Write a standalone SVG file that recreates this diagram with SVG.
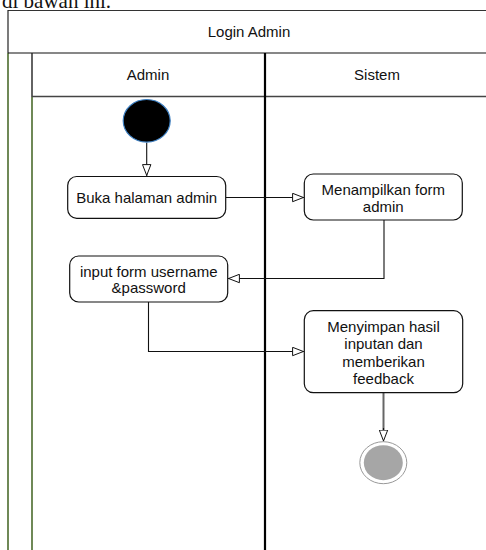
<svg xmlns="http://www.w3.org/2000/svg" width="486" height="550" viewBox="0 0 486 550">
  <style>
    .lbl { font-family: "Liberation Sans", Arial, sans-serif; font-size: 15px; fill: #111; text-anchor: middle; }
    .act { fill: #fff; stroke: #111; stroke-width: 1.2; }
    .flow { fill: none; stroke: #111; stroke-width: 1.1; }
    .frame { fill: none; stroke: #222; stroke-width: 1.2; }
    .green { stroke: #4b6b2c; stroke-width: 1.6; }
  </style>
  <defs>
    <marker id="open" viewBox="0 0 12 10" refX="12" refY="5" markerWidth="12" markerHeight="10" markerUnits="userSpaceOnUse" orient="auto">
      <path d="M0.6,0.8 L11.4,5 L0.6,9.2 Z" fill="#fff" stroke="#111" stroke-width="1"/>
    </marker>
  </defs>

  <rect width="486" height="550" fill="#fff"/>

  <!-- paragraph text running above the figure -->
  <text x="2" y="8" font-family="'Liberation Serif', 'Times New Roman', serif" font-size="21" fill="#111">di bawah ini.</text>

  <!-- swimlane frame -->
  <g id="swimlane">
    <line x1="8" y1="10.5" x2="486" y2="10.5" stroke="#333" stroke-width="1.2"/>
    <line x1="8" y1="10" x2="8" y2="53" stroke="#222" stroke-width="1.2"/>
    <line class="green" x1="8" y1="53" x2="8" y2="550"/>
    <line x1="8" y1="53" x2="486" y2="53" stroke="#111" stroke-width="1.2"/>
    <line x1="32" y1="53" x2="32" y2="97" stroke="#222" stroke-width="1.4"/>
    <line class="green" x1="32" y1="97" x2="32" y2="550"/>
    <line x1="32" y1="96.5" x2="486" y2="96.5" stroke="#444" stroke-width="1.5"/>
    <line x1="265" y1="53" x2="265" y2="550" stroke="#000" stroke-width="2.2"/>
    <text class="lbl" x="249" y="37">Login Admin</text>
    <text class="lbl" x="148" y="80">Admin</text>
    <text class="lbl" x="377" y="80">Sistem</text>
  </g>

  <!-- connectors -->
  <g id="connectors">
    <line class="flow" x1="146.7" y1="142.5" x2="146.7" y2="176" marker-end="url(#open)"/>
    <line class="flow" x1="226" y1="197.5" x2="304" y2="197.5" marker-end="url(#open)"/>
    <polyline class="flow" points="384,220 384,278.5 228,278.5" marker-end="url(#open)"/>
    <polyline class="flow" points="148.5,302 148.5,351.5 304,351.5" marker-end="url(#open)"/>
    <line x1="383.5" y1="393" x2="383.5" y2="431" stroke="#666" stroke-width="2"/>
    <line class="flow" x1="383.5" y1="428" x2="383.5" y2="441.5" marker-end="url(#open)"/>
  </g>

  <!-- start node -->
  <g id="start">
    <ellipse cx="146.7" cy="120.8" rx="23.5" ry="21.3" fill="#000" stroke="#3d7fc1" stroke-width="1.2"/>
  </g>

  <g id="buka-halaman">
    <rect class="act" x="67.7" y="176.5" width="158" height="41.8" rx="9"/>
    <text class="lbl" x="146.7" y="203">Buka halaman admin</text>
  </g>

  <g id="menampilkan-form">
    <rect class="act" x="304.3" y="174" width="158" height="46" rx="9"/>
    <text class="lbl" x="383.3" y="195">Menampilkan form</text>
    <text class="lbl" x="383.3" y="212">admin</text>
  </g>

  <g id="input-form">
    <rect class="act" x="69.7" y="256" width="158" height="46" rx="9"/>
    <text class="lbl" x="148.7" y="276.5">input form username</text>
    <text class="lbl" x="148.7" y="293">&amp;password</text>
  </g>

  <g id="menyimpan">
    <rect class="act" x="304.3" y="310.7" width="158.4" height="82" rx="9"/>
    <text class="lbl" x="383.5" y="331.5">Menyimpan hasil</text>
    <text class="lbl" x="383.5" y="349">inputan dan</text>
    <text class="lbl" x="383.5" y="366.5">memberikan</text>
    <text class="lbl" x="383.5" y="384">feedback</text>
  </g>

  <!-- end node -->
  <g id="end">
    <ellipse cx="383.3" cy="462.7" rx="23.5" ry="21" fill="#fff" stroke="#999" stroke-width="1"/>
    <ellipse cx="383.3" cy="462.7" rx="19.5" ry="17.5" fill="#a6a6a6"/>
  </g>
</svg>
